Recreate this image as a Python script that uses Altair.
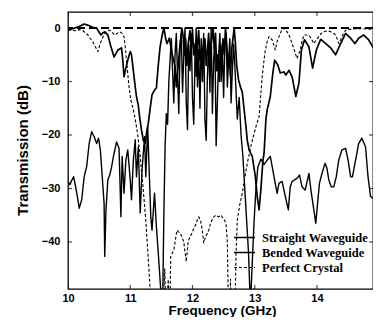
import altair as alt
import pandas as pd

series_order = ["Straight Waveguide", "Bended Waveguide", "Perfect Crystal"]
x_ticks = [10, 11, 12, 13, 14, 15]
y_ticks = [-40, -30, -20, -10, 0]

straight_f = [10.00, 10.05, 10.11, 10.18, 10.26, 10.30, 10.35, 10.40, 10.46, 10.50, 10.53, 10.56, 10.59,
              10.64, 10.69, 10.74, 10.77, 10.80, 10.86, 10.88, 10.90, 10.93, 10.96, 11.00, 11.02, 11.05,
              11.08, 11.10, 11.13, 11.15, 11.18, 11.21, 11.24, 11.27, 11.29, 11.32, 11.35, 11.39, 11.42,
              11.45, 11.48, 11.51, 11.54, 11.57, 11.59, 11.63, 11.67, 11.72, 11.74, 11.77, 11.80, 11.83,
              11.85, 11.87, 11.89, 11.91, 11.93, 11.96, 11.98, 12.00, 12.02, 12.04, 12.06, 12.08, 12.10,
              12.12, 12.14, 12.16, 12.18, 12.20, 12.22, 12.24, 12.26, 12.28, 12.30, 12.33, 12.35, 12.37,
              12.39, 12.41, 12.43, 12.45, 12.47, 12.49, 12.51, 12.53, 12.55, 12.57, 12.59, 12.61, 12.63,
              12.65, 12.67, 12.69, 12.71, 12.74, 12.77, 12.80, 12.83, 12.86, 12.88, 12.91, 12.96, 13.01,
              13.04, 13.07, 13.10, 13.13, 13.15, 13.18, 13.20, 13.25, 13.29, 13.32, 13.37, 13.41, 13.47,
              13.50, 13.55, 13.60, 13.66, 13.71, 13.75, 13.80, 13.87, 13.93, 13.99, 14.06, 14.14, 14.22,
              14.30, 14.38, 14.46, 14.54, 14.61, 14.67, 14.75, 14.83, 14.91, 15.00]
straight_db = [-0.4, -0.2, 0.0, 0.3, 0.75, 0.6, 0.4, 0.1, 0.0, -0.8, -1.3, -0.9, -0.7,
               -1.3, -3.5, -5.4, -4.8, -4.1, -3.7, -6.0, -9.1, -7.5, -6.0, -4.4, -5.0, -8.0,
               -11.0, -12.8, -14.5, -16.6, -19.0, -21.0, -21.5, -19.0, -17.8, -15.0, -12.5, -11.6, -11.2,
               -7.0, -3.5, -1.5, 0.0, -2.0, -2.9, -1.9, -4.7, -7.2, -11.0, -7.0, -3.0, 0.0,
               -1.5, -5.0, -2.0, -7.0, -3.0, -0.5, -4.0, -0.3, -5.0, -3.0, -9.0, -3.0, -0.5,
               -6.0, -4.0, -10.0, -5.0, -2.0, -7.0, -4.0, -1.0, -6.0, -3.0, 0.0, -4.0, -1.0,
               -8.0, -5.0, -10.0, -3.0, -6.0, -2.0, -5.0, 0.0, -3.0, -7.0, -5.0, -9.0, -4.0,
               -2.0, 0.0, -3.0, -7.0, -9.7, -11.0, -12.0, -15.3, -18.5, -21.0, -22.8, -24.0, -27.8,
               -31.5, -34.0, -30.0, -25.0, -23.4, -17.0, -15.3, -12.8, -8.5, -6.0, -6.9, -8.4, -8.2,
               -8.8, -7.9, -9.1, -12.8, -10.3, -4.1, -2.2, -3.5, -7.5, -4.1, -2.1, -2.9, -3.7,
               -5.0, -2.9, -1.0, -1.9, -2.9, -1.9, -1.3, -2.2, -3.8, -4.7]

bended_f = [10.00, 10.03, 10.06, 10.09, 10.12, 10.15, 10.18, 10.22, 10.26, 10.30, 10.34, 10.38, 10.42,
            10.46, 10.49, 10.52, 10.55, 10.58, 10.59, 10.61, 10.64, 10.67, 10.70, 10.73, 10.78, 10.82,
            10.83, 10.85, 10.87, 10.90, 10.93, 10.96, 11.00, 11.02, 11.05, 11.08, 11.10, 11.13, 11.16,
            11.19, 11.23, 11.25, 11.28, 11.30, 11.33, 11.35, 11.39, 11.42, 11.45, 11.49, 11.52,
            11.54, 11.56, 11.58, 11.60, 11.62, 11.64, 11.66, 11.68, 11.70, 11.72, 11.74, 11.76, 11.78,
            11.80, 11.82, 11.84, 11.86, 11.88, 11.90, 11.92, 11.94, 11.96, 11.98, 12.00, 12.02, 12.04,
            12.06, 12.08, 12.10, 12.12, 12.14, 12.16, 12.18, 12.20, 12.22, 12.24, 12.26, 12.28, 12.30,
            12.32, 12.34, 12.36, 12.38, 12.40, 12.42, 12.44, 12.46, 12.48, 12.50, 12.52, 12.54, 12.56,
            12.58, 12.60, 12.62, 12.64, 12.66, 12.68, 12.70, 12.72, 12.75, 12.78, 12.81, 12.84, 12.87,
            12.90, 12.93, 12.96, 12.99, 13.02, 13.05, 13.10, 13.15, 13.20, 13.25, 13.31, 13.36, 13.39,
            13.44, 13.48, 13.54, 13.57, 13.60, 13.64, 13.68, 13.72, 13.76, 13.81, 13.87, 13.91, 13.95,
            13.98, 14.00, 14.04, 14.08, 14.13, 14.16, 14.19, 14.23, 14.27, 14.31, 14.35, 14.40, 14.46,
            14.50, 14.54, 14.57, 14.62, 14.67, 14.72, 14.78, 14.82, 14.86, 14.91, 14.96, 15.00]
bended_db = [-28.7, -29.3, -28.5, -27.8, -29.5, -31.5, -33.7, -32.1, -27.8, -25.9, -21.6, -19.4, -20.3,
             -21.6, -20.6, -22.8, -27.8, -32.8, -42.7, -34.0, -28.4, -27.5, -26.0, -24.0, -21.3, -22.5,
             -26.5, -35.3, -24.0, -30.9, -24.7, -22.8, -28.4, -32.1, -24.7, -20.9, -27.8, -22.2, -34.6,
             -26.5, -20.3, -27.8, -18.4, -25.3, -35.3, -37.8, -30.9, -37.1, -42.0, -49.0, -52.0,
             -35.0, -22.0, -16.0, -18.0, -10.0, -6.0, -2.0, -8.0, -14.0, -5.0, -1.0, -9.0, -16.0,
             -4.0, -1.0, -12.0, -5.0, 0.0, -14.0, -19.0, -3.0, -8.0, -1.0, -13.0, -18.0, -6.0,
             0.0, -11.0, -4.0, -15.0, -2.0, -7.0, -1.0, -17.0, -21.0, -9.0, -3.0, -12.0, 0.0,
             -16.0, -6.0, -2.0, -22.0, -14.0, -5.0, -1.0, -10.0, -4.0, -13.0, -3.0, -1.0, -11.0,
             -6.0, -2.0, -14.0, -8.0, -3.0, -7.0, -12.0, -17.0, -13.0, -20.0, -24.0, -30.0, -36.0,
             -42.0, -52.0, -44.0, -36.0, -30.0, -26.0, -24.5, -25.5, -24.7, -24.0, -27.8, -30.9, -29.0,
             -28.7, -30.9, -34.0, -29.7, -28.7, -28.4, -28.1, -27.5, -29.7, -30.3, -27.2, -30.9, -34.0,
             -36.5, -34.0, -29.0, -27.2, -25.3, -26.2, -28.4, -29.7, -29.7, -27.8, -24.7, -22.8, -22.5,
             -24.7, -27.8, -27.8, -24.7, -21.6, -20.6, -22.2, -27.8, -31.5, -31.9, -24.7, -22.8]

crystal_f = [10.00, 10.05, 10.11, 10.18, 10.24, 10.28, 10.32, 10.36, 10.40, 10.44, 10.48, 10.51, 10.54,
             10.59, 10.63, 10.67, 10.71, 10.75, 10.79, 10.83, 10.87, 10.90, 10.92, 10.94, 10.96, 10.98,
             11.01, 11.05, 11.08, 11.12, 11.16, 11.20, 11.25, 11.30, 11.35, 11.50, 11.52, 11.555, 11.575,
             11.61, 11.635, 11.65, 11.70, 11.75, 11.80, 11.83, 11.86, 11.90, 11.93, 11.96, 11.99, 12.02,
             12.05, 12.08, 12.10, 12.13, 12.16, 12.18, 12.21, 12.24, 12.27, 12.29, 12.33, 12.37, 12.42,
             12.46, 12.49, 12.52, 12.54, 12.56, 12.58, 12.60, 12.61, 12.62, 12.68, 12.70, 12.72, 12.76,
             12.80, 12.84, 12.88, 12.94, 12.99, 13.03, 13.07, 13.10, 13.12, 13.15, 13.17, 13.20, 13.23,
             13.28, 13.33, 13.36, 13.39, 13.43, 13.47, 13.52, 13.56, 13.60, 13.64, 13.68, 13.73, 13.76,
             13.79, 13.87, 13.91, 13.95, 13.99, 14.03, 14.07, 14.11, 14.17, 14.22, 14.27, 14.30, 14.33,
             14.35, 14.38, 14.40, 14.46, 14.55, 14.70, 14.85, 15.00]
crystal_db = [-0.3, -0.4, -0.5, -0.3, -0.5, -0.9, -1.3, -2.0, -2.6, -3.5, -4.4, -3.2, -2.2,
              -1.0, -0.6, -0.4, -0.8, -1.3, -1.0, -0.7, -1.0, -1.6, -3.5, -6.0, -8.5, -11.0,
              -13.5, -15.3, -17.0, -20.0, -24.0, -29.0, -36.0, -45.0, -55.0, -55.0, -55.0, -45.0, -55.0,
              -47.0, -55.0, -42.7, -41.5, -37.8, -38.4, -39.0, -40.0, -43.7, -40.0, -39.0, -38.4, -37.5,
              -36.8, -35.8, -35.3, -36.0, -38.0, -40.2, -39.0, -38.4, -37.5, -36.5, -35.5, -35.0, -35.3,
              -35.0, -35.6, -36.0, -36.8, -40.0, -55.0, -55.0, -47.0, -55.0, -55.0, -42.0, -35.9, -33.0,
              -30.9, -28.0, -25.3, -22.0, -19.7, -18.0, -16.6, -12.0, -9.0, -6.0, -4.1, -2.5, -1.6,
              -2.2, -4.1, -2.5, -1.6, -0.5, 0.0, -0.7, -1.6, -2.9, -4.3, -5.7, -4.1, -2.5,
              -1.3, -1.3, -2.0, -2.9, -2.2, -1.6, -1.0, -0.7, -0.5, -0.7, -1.0, -1.3, -2.2,
              -2.9, -2.2, -1.6, -0.4, -0.2, -0.1, -0.2, -0.1]

rows = []
for name, fs, ds in [(series_order[0], straight_f, straight_db),
                     (series_order[1], bended_f, bended_db),
                     (series_order[2], crystal_f, crystal_db)]:
    for f, d in zip(fs, ds):
        rows.append({"f": f, "db": d, "series": name})
df = pd.DataFrame(rows)
xt_df = pd.DataFrame({"f": x_ticks})
yt_df = pd.DataFrame({"db": y_ticks})

x_lo, x_hi = 10, 14.9
y_lo, y_hi = -48.8, 3

legend = alt.Legend(title=None, orient="none", legendX=168.5, legendY=217.5,
                    symbolType="M-1.5,0H1.5", symbolSize=196, labelOffset=9.5, padding=0,
                    rowPadding=0, labelFont="Liberation Serif", labelFontWeight="bold",
                    labelFontSize=12.5, labelColor="black", symbolStrokeColor="black",
                    symbolFillColor="transparent")

x_enc = alt.X("f:Q", scale=alt.Scale(domain=[x_lo, x_hi], nice=False, zero=False),
              axis=alt.Axis(values=x_ticks, title="Frequency (GHz)", format="d",
                            labelPadding=3, labelFlush=False, titleFontSize=13.5, titleY=25,
                            titleBaseline="alphabetic", titleX=154))
y_enc = alt.Y("db:Q", scale=alt.Scale(domain=[y_lo, y_hi], nice=False, zero=False),
              axis=alt.Axis(values=y_ticks, title="Transmission (dB)", labelPadding=8,
                            titleFontSize=15, titleX=-46, titleY=138, titleBaseline="middle"))

zero_line = alt.Chart(df).mark_rule(color="black", strokeWidth=1, strokeDash=[8, 4]).encode(
    y=alt.datum(0)
)

tick_style = dict(color="black", thickness=1.2, size=8, clip=True)
top_ticks = alt.Chart(xt_df).mark_tick(orient="vertical", **tick_style).encode(x=x_enc, y=alt.datum(y_hi))
bottom_ticks = alt.Chart(xt_df).mark_tick(orient="vertical", **tick_style).encode(x=x_enc, y=alt.datum(y_lo))
left_ticks = alt.Chart(yt_df).mark_tick(orient="horizontal", **tick_style).encode(y=y_enc, x=alt.datum(x_lo))
right_ticks = alt.Chart(yt_df).mark_tick(orient="horizontal", **tick_style).encode(y=y_enc, x=alt.datum(x_hi))

lines = alt.Chart(df).mark_line(clip=True, strokeJoin="round").encode(
    x=x_enc,
    y=y_enc,
    color=alt.Color("series:N", sort=series_order,
                    scale=alt.Scale(domain=series_order, range=["black", "black", "black"]),
                    legend=legend),
    strokeDash=alt.StrokeDash("series:N", sort=series_order,
                              scale=alt.Scale(domain=series_order, range=[[1, 0], [1, 0], [3, 2]]),
                              legend=legend),
    strokeWidth=alt.StrokeWidth("series:N", sort=series_order,
                                scale=alt.Scale(domain=series_order, range=[1.7, 1.1, 1.1]),
                                legend=legend),
)

chart = alt.layer(zero_line, top_ticks, bottom_ticks, left_ticks, right_ticks, lines).properties(
    width=305, height=277,
    autosize=alt.AutoSizeParams(type="none"),
    padding={"left": 60, "top": 4, "right": 0, "bottom": 28},
    background="white",
).configure_view(stroke="black", strokeWidth=1.3).configure_axis(
    domain=False, ticks=False, grid=False,
    labelFont="Liberation Sans", labelFontWeight="bold", labelFontSize=11, labelColor="black",
    titleFont="Liberation Sans", titleFontWeight="bold", titleColor="black",
)

chart.save("out.html", embed_options={"renderer": "svg", "actions": False})
